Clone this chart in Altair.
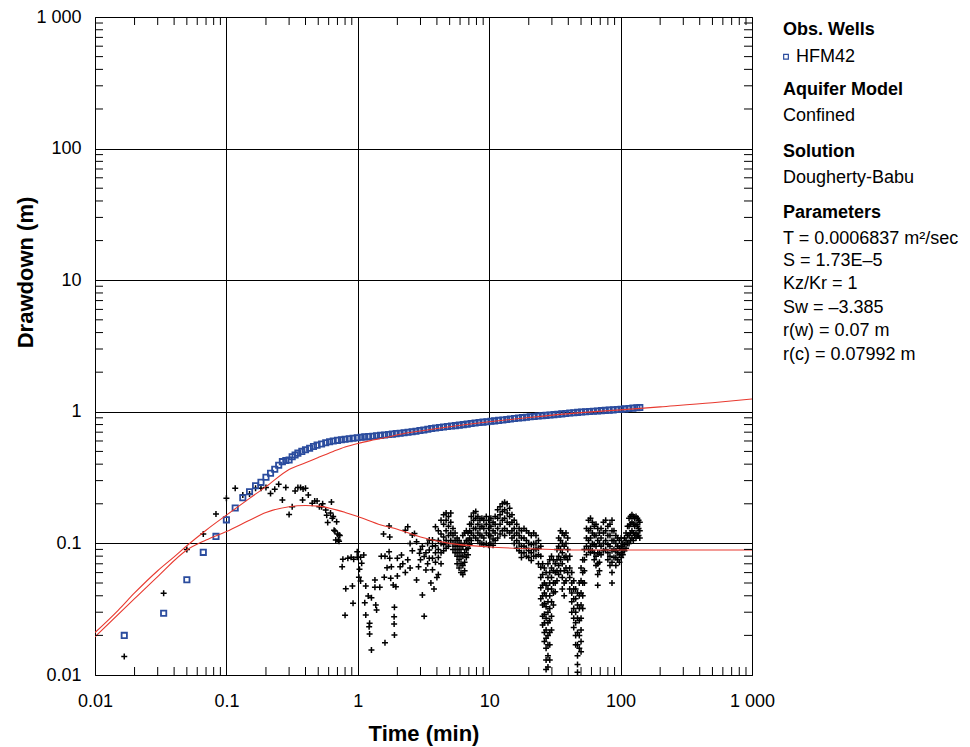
import altair as alt
import pandas as pd

W, H = 657, 658

# ---------------- data ----------------
# Observed drawdown, HFM42 (blue squares)
obs_t = [0.0167, 0.0333, 0.05, 0.0667, 0.0833, 0.1, 0.1167, 0.1333, 0.15, 0.1667,
         0.1833, 0.2, 0.2167, 0.2333, 0.25, 0.2667, 0.2833, 0.3, 0.3167, 0.3333,
         0.35, 0.375, 0.40, 0.43, 0.46, 0.49, 0.53, 0.57, 0.61, 0.65,
         0.70, 0.75, 0.80, 0.86, 0.92, 0.99, 1.06, 1.13, 1.21, 1.3,
         1.39, 1.49, 1.6, 1.71, 1.83, 1.96, 2.1, 2.25, 2.41, 2.59,
         2.77, 2.97, 3.18, 3.41, 3.65, 3.91, 4.19, 4.49, 4.81, 5.16,
         5.53, 5.92, 6.35, 6.8, 7.29, 7.81, 8.37, 8.97, 9.61, 10.3,
         11.0, 11.8, 12.7, 13.6, 14.5, 15.6, 16.7, 17.9, 19.2, 20.5,
         22.0, 23.6, 25.3, 27.1, 29.0, 31.1, 33.3, 35.7, 38.3, 41.0,
         44.0, 47.1, 50.5, 54.1, 58.0, 62.1, 66.6, 71.3, 76.5, 81.9,
         87.8, 94.1, 100.8, 108.0, 115.8, 124.1, 133.0, 140.0]
obs_s = [0.020, 0.0295, 0.053, 0.0855, 0.113, 0.151, 0.186, 0.222, 0.247, 0.274,
         0.291, 0.318, 0.341, 0.366, 0.392, 0.418, 0.427, 0.43, 0.456, 0.47,
         0.485, 0.50, 0.515, 0.528, 0.545, 0.558, 0.57, 0.582, 0.592, 0.60,
         0.607, 0.613, 0.618, 0.624, 0.629, 0.635, 0.64, 0.645, 0.648, 0.652,
         0.657, 0.662, 0.667, 0.672, 0.677, 0.683, 0.688, 0.694, 0.70, 0.706,
         0.712, 0.72, 0.728, 0.737, 0.746, 0.753, 0.76, 0.767, 0.773, 0.779,
         0.785, 0.792, 0.799, 0.806, 0.814, 0.822, 0.829, 0.835, 0.841, 0.847,
         0.853, 0.86, 0.867, 0.874, 0.881, 0.889, 0.896, 0.903, 0.91, 0.916,
         0.922, 0.928, 0.934, 0.94, 0.946, 0.952, 0.958, 0.965, 0.972, 0.978,
         0.984, 0.99, 0.996, 1.0, 1.005, 1.01, 1.015, 1.02, 1.025, 1.03,
         1.035, 1.04, 1.045, 1.052, 1.06, 1.067, 1.072, 1.077]

# Derivative of observed drawdown (black crosses), individual early points
deriv_pts = [
    (0.0167, 0.0138), (0.0333, 0.0418), (0.05, 0.090), (0.0667, 0.118), (0.0833, 0.167),
    (0.1, 0.220), (0.1167, 0.262), (0.1333, 0.233), (0.15, 0.237), (0.1667, 0.262),
    (0.1833, 0.262), (0.2, 0.266), (0.2167, 0.239), (0.2333, 0.258), (0.25, 0.281),
    (0.2667, 0.214), (0.2833, 0.266), (0.3, 0.166), (0.3167, 0.19), (0.3333, 0.25),
    (0.35, 0.266), (0.3667, 0.266), (0.38, 0.214), (0.3833, 0.259), (0.40, 0.262),
    (0.42, 0.233), (0.45, 0.202), (0.47, 0.21), (0.49, 0.21), (0.51, 0.19),
    (0.53, 0.19), (0.54, 0.2), (0.57, 0.179), (0.58, 0.164), (0.59, 0.144),
    (0.62, 0.17), (0.63, 0.206), (0.64, 0.155), (0.65, 0.16), (0.66, 0.126),
    (0.67, 0.124), (0.68, 0.106), (0.69, 0.146), (0.70, 0.118), (0.71, 0.106),
    (0.72, 0.116), (0.72, 0.104), (0.73, 0.115),
    (0.76, 0.0665), (0.77, 0.0757), (0.80, 0.0284), (0.81, 0.0453), (0.84, 0.077),
    (0.89, 0.0784), (0.91, 0.0475), (0.92, 0.0351), (0.93, 0.0757), (0.99, 0.0865),
    (0.99, 0.0784), (1.02, 0.0553), (1.03, 0.0636), (1.05, 0.0784), (1.05, 0.0518),
    (1.07, 0.0706), (1.11, 0.0817), (1.13, 0.0354), (1.15, 0.0475), (1.15, 0.0286),
    (1.2, 0.0398), (1.22, 0.0233), (1.23, 0.0247), (1.23, 0.0205), (1.27, 0.0387),
    (1.27, 0.0155), (1.35, 0.0527), (1.35, 0.0464), (1.37, 0.034), (1.39, 0.0312),
    (1.47, 0.0464), (1.51, 0.080), (1.57, 0.118), (1.59, 0.0553), (1.61, 0.080),
    (1.61, 0.0176), (1.67, 0.0653), (1.73, 0.1356), (1.73, 0.0865), (1.75, 0.112),
    (1.75, 0.077), (1.78, 0.0543), (1.8, 0.0665), (1.86, 0.0483), (1.89, 0.0277),
    (1.89, 0.0244), (1.9, 0.0327), (1.9, 0.0201), (1.95, 0.0469), (2.0, 0.077),
    (2.0, 0.0565), (2.1, 0.0665), (2.15, 0.0817), (2.2, 0.07), (2.3, 0.126),
    (2.3, 0.06), (2.4, 0.134), (2.4, 0.075), (2.5, 0.1), (2.5, 0.065),
    (2.6, 0.116), (2.6, 0.088), (2.7, 0.119), (2.8, 0.103), (2.8, 0.0527),
    (2.9, 0.0665), (2.95, 0.084), (3.0, 0.09), (3.0, 0.075), (3.1, 0.0405),
    (3.1, 0.095), (3.2, 0.028), (3.2, 0.0795), (3.3, 0.0628), (3.3, 0.085),
    (3.4, 0.07), (3.4, 0.1), (3.6, 0.05), (3.8, 0.045), (4.0, 0.055),
]

# Derivative, dense part: (time, [values at that time])
deriv_cols = [
    (3.5, [0.089, 0.106, 0.077]), (3.7, [0.106, 0.077, 0.095, 0.063]),
    (3.9, [0.134, 0.096, 0.085, 0.072]), (4.1, [0.125, 0.105, 0.090, 0.078, 0.058]),
    (4.3, [0.15, 0.118, 0.100, 0.085, 0.07]), (4.5, [0.165, 0.14, 0.112, 0.098, 0.088]),
    (4.7, [0.17, 0.15, 0.125, 0.105, 0.092]), (4.9, [0.16, 0.135, 0.115, 0.1, 0.095]),
    (5.1, [0.17, 0.145, 0.12, 0.105]), (5.3, [0.13, 0.115, 0.1, 0.09]),
    (5.5, [0.12, 0.105, 0.095, 0.085]), (5.7, [0.11, 0.1, 0.09, 0.08, 0.07]),
    (5.9, [0.105, 0.095, 0.085, 0.075, 0.065]), (6.1, [0.1, 0.09, 0.08, 0.07, 0.06]),
    (6.3, [0.115, 0.095, 0.08, 0.068, 0.058]), (6.5, [0.12, 0.1, 0.085, 0.072, 0.062]),
    (6.7, [0.125, 0.105, 0.09, 0.078]), (6.9, [0.12, 0.105, 0.092, 0.082]),
    (7.1, [0.14, 0.125, 0.11, 0.098]), (7.3, [0.16, 0.14, 0.12, 0.105]),
    (7.6, [0.17, 0.15, 0.13, 0.115]), (7.9, [0.175, 0.155, 0.13, 0.11]),
    (8.2, [0.16, 0.14, 0.12, 0.105]), (8.5, [0.15, 0.13, 0.115, 0.1]),
    (8.8, [0.155, 0.135, 0.115, 0.1]), (9.1, [0.15, 0.13, 0.11, 0.098]),
    (9.5, [0.16, 0.14, 0.12, 0.1]), (9.9, [0.15, 0.13, 0.115, 0.097]),
    (10.3, [0.155, 0.135, 0.115, 0.1]), (10.7, [0.145, 0.125, 0.108, 0.097]),
    (11.1, [0.16, 0.14, 0.12, 0.105]), (11.6, [0.18, 0.155, 0.13, 0.11]),
    (12.1, [0.19, 0.165, 0.14, 0.118]), (12.6, [0.2, 0.175, 0.15, 0.125]),
    (13.1, [0.205, 0.18, 0.155, 0.13, 0.115]), (13.7, [0.2, 0.17, 0.145, 0.125]),
    (14.3, [0.185, 0.16, 0.14, 0.12]), (14.9, [0.165, 0.145, 0.125, 0.11]),
    (15.5, [0.15, 0.13, 0.115, 0.1]), (16.2, [0.14, 0.12, 0.105, 0.092]),
    (16.9, [0.13, 0.115, 0.1, 0.088]), (17.6, [0.125, 0.11, 0.095, 0.085, 0.078]),
    (18.4, [0.13, 0.11, 0.095, 0.085]), (19.2, [0.125, 0.105, 0.092, 0.08]),
    (20.0, [0.12, 0.1, 0.088, 0.078]), (20.9, [0.115, 0.098, 0.085, 0.074]),
    (21.8, [0.12, 0.1, 0.09, 0.08]), (22.7, [0.115, 0.1, 0.09, 0.08]),
    (23.7, [0.105, 0.092, 0.082, 0.07]),
    (24.7, [0.095, 0.08, 0.066, 0.055, 0.046, 0.038]),
    (25.5, [0.07, 0.058, 0.048, 0.04, 0.034, 0.028, 0.024]),
    (26.3, [0.065, 0.05, 0.042, 0.035, 0.029, 0.025, 0.021, 0.018]),
    (27.1, [0.06, 0.048, 0.04, 0.033, 0.027, 0.022, 0.019, 0.016, 0.013, 0.011]),
    (28.0, [0.07, 0.055, 0.045, 0.036, 0.03, 0.025, 0.02, 0.017, 0.014, 0.0115]),
    (28.9, [0.075, 0.06, 0.05, 0.04, 0.032, 0.026, 0.021, 0.017, 0.013]),
    (29.8, [0.08, 0.065, 0.055, 0.045, 0.036, 0.028, 0.022]),
    (30.8, [0.075, 0.062, 0.05, 0.042, 0.034]), (31.8, [0.07, 0.06, 0.05, 0.043]),
    (32.8, [0.09, 0.075, 0.062, 0.052]), (33.8, [0.11, 0.095, 0.08, 0.068, 0.058]),
    (34.9, [0.125, 0.105, 0.09, 0.075, 0.062]),
    (36.0, [0.12, 0.1, 0.085, 0.07, 0.055, 0.045]),
    (37.2, [0.115, 0.095, 0.078, 0.062, 0.05, 0.04]),
    (38.4, [0.12, 0.1, 0.08, 0.065, 0.052]), (39.6, [0.11, 0.09, 0.075, 0.06]),
    (41.0, [0.08, 0.065, 0.055, 0.045]), (42.5, [0.06, 0.05, 0.042, 0.036, 0.03]),
    (44.0, [0.052, 0.045, 0.038, 0.032, 0.027, 0.023]),
    (45.5, [0.045, 0.038, 0.03, 0.025, 0.02, 0.017]),
    (47.0, [0.042, 0.034, 0.027, 0.021, 0.017, 0.014, 0.012, 0.0105]),
    (48.5, [0.05, 0.04, 0.032, 0.026, 0.02, 0.016]),
    (50.0, [0.065, 0.052, 0.042, 0.034, 0.027, 0.022, 0.018, 0.015]),
    (51.5, [0.075, 0.06, 0.05, 0.04, 0.032]), (53.0, [0.09, 0.075, 0.062, 0.05]),
    (55.0, [0.13, 0.11, 0.095, 0.082]), (57.0, [0.15, 0.125, 0.105, 0.09]),
    (59.0, [0.155, 0.13, 0.11, 0.095, 0.085]), (61.0, [0.145, 0.12, 0.1, 0.088]),
    (63.0, [0.135, 0.115, 0.098, 0.085, 0.075]), (65.0, [0.14, 0.115, 0.095, 0.08, 0.068]),
    (67.0, [0.13, 0.105, 0.085, 0.07, 0.058, 0.048]), (69.0, [0.12, 0.1, 0.085, 0.072, 0.062]),
    (71.0, [0.13, 0.11, 0.095, 0.082]), (74.0, [0.145, 0.12, 0.1, 0.088]),
    (77.0, [0.15, 0.125, 0.105, 0.09]), (80.0, [0.135, 0.115, 0.098, 0.085, 0.075]),
    (83.0, [0.14, 0.115, 0.095, 0.08, 0.068]),
    (86.0, [0.15, 0.125, 0.105, 0.088, 0.072, 0.06, 0.05]),
    (89.0, [0.125, 0.105, 0.09, 0.078]), (92.0, [0.115, 0.1, 0.088, 0.078, 0.068]),
    (95.0, [0.11, 0.095, 0.085, 0.075]), (98.0, [0.105, 0.092, 0.082, 0.072]),
    (101.0, [0.11, 0.095, 0.085, 0.078]), (104.0, [0.1, 0.09, 0.082]),
    (107.0, [0.11, 0.098, 0.088]), (110.0, [0.12, 0.105, 0.092]),
    (113.0, [0.135, 0.115, 0.1]), (116.0, [0.155, 0.135, 0.115, 0.1]),
    (119.0, [0.16, 0.14, 0.12, 0.105]), (122.0, [0.165, 0.145, 0.125, 0.11]),
    (125.0, [0.16, 0.14, 0.12, 0.105]), (128.0, [0.155, 0.135, 0.115]),
    (131.0, [0.16, 0.14, 0.12, 0.11]), (134.0, [0.155, 0.135, 0.115]),
    (137.0, [0.15, 0.13, 0.115]), (140.0, [0.145, 0.125, 0.11]),
]

# Type curve (Dougherty-Babu) and its derivative (red lines)
model_t = [0.01, 0.015, 0.02, 0.03, 0.04, 0.05, 0.07, 0.1, 0.15, 0.2, 0.3, 0.4, 0.5,
           0.65, 0.8, 1.0, 1.3, 1.75, 2.1, 3.0, 5.0, 10.0, 20.0, 50.0, 100.0, 200.0,
           500.0, 1000.0]
model_s = [0.021, 0.031, 0.042, 0.062, 0.079, 0.096, 0.126, 0.164, 0.22, 0.27, 0.365,
           0.41, 0.45, 0.50, 0.54, 0.575, 0.61, 0.647, 0.675, 0.715, 0.77, 0.84, 0.905,
           0.985, 1.035, 1.09, 1.17, 1.25]
deriv_model_t = [0.01, 0.02, 0.03, 0.05, 0.07, 0.1, 0.15, 0.2, 0.3, 0.4, 0.5, 0.6, 0.8,
                 1.0, 1.5, 2.0, 3.0, 5.0, 10.0, 20.0, 50.0, 100.0, 1000.0]
deriv_model_s = [0.0195, 0.038, 0.056, 0.089, 0.106, 0.123, 0.15, 0.172, 0.19, 0.194,
                 0.192, 0.186, 0.172, 0.16, 0.138, 0.128, 0.112, 0.1, 0.094, 0.091,
                 0.089, 0.089, 0.089]

decades = [0.01, 0.1, 1, 10, 100, 1000]
minor_mult = [2, 3, 4, 5, 6, 7, 8, 9]

legend_lines = [
    ("Obs. Wells", True), ("HFM42", False), ("Aquifer Model", True), ("Confined", False),
    ("Solution", True), ("Dougherty-Babu", False), ("Parameters", True),
    ("T = 0.0006837 m\u00b2/sec", False), ("S = 1.73E\u20135", False),
    ("Kz/Kr = 1", False), ("Sw = \u20133.385", False), ("r(w) = 0.07 m", False),
    ("r(c) = 0.07992 m", False),
]

# ---------------- layout constants ----------------
legend_y = [13, 39.7, 73, 99, 134.7, 160.7, 195.5, 221.5, 244, 267, 290.5, 314, 337.5]
LEG_X = 688
FONT = "Liberation Sans"
BLUE = "#2b4c9e"
RED = "#e8392f"

# ---------------- tables ----------------
obs = pd.DataFrame({"t": obs_t, "s": obs_s})
der_rows = list(deriv_pts) + [(t, v) for t, vs in deriv_cols for v in vs]
der = pd.DataFrame(der_rows, columns=["t", "s"])
model = pd.DataFrame({"t": model_t, "s": model_s})
dmodel = pd.DataFrame({"t": deriv_model_t, "s": deriv_model_s})
minor = pd.DataFrame({"v": [m * d for d in decades[:-1] for m in minor_mult]})

xs = alt.Scale(type="log", domain=[0.01, 1000], nice=False)
ys = alt.Scale(type="log", domain=[0.01, 1000], nice=False)

label_expr = "datum.value >= 1000 ? '1 000' : format(datum.value, '~g')"

x_axis = alt.Axis(values=decades, labelExpr=label_expr, grid=True, ticks=False,
                  domain=False, labelPadding=17, title="Time (min)",
                  titleY=58, titleBaseline="middle", labelFlush=False)
y_axis = alt.Axis(values=decades, labelExpr=label_expr, grid=True, ticks=False,
                  domain=False, labelPadding=14, title="Drawdown (m)",
                  titleX=-70, titleY=255, titleBaseline="middle", titleAngle=-90,
                  labelFlush=False)

X = alt.X("t:Q", scale=xs, axis=x_axis)
Y = alt.Y("s:Q", scale=ys, axis=y_axis)

cross_shape = "M-1,0L1,0M0,-1L0,1"
crosses = alt.Chart(der).mark_point(
    shape=cross_shape, filled=False, stroke="black", strokeWidth=1.5, size=36,
    opacity=1, clip=True
).encode(x=X, y=Y)

squares = alt.Chart(obs).mark_point(
    shape="square", filled=False, color=BLUE, strokeWidth=1.8, size=28, opacity=1,
    clip=True
).encode(x=X, y=Y)

line_model = alt.Chart(model).mark_line(color=RED, strokeWidth=1.1,
                                         interpolate="monotone", clip=True).encode(x=X, y=Y)
line_dmodel = alt.Chart(dmodel).mark_line(color=RED, strokeWidth=1.1,
                                           interpolate="monotone", clip=True).encode(x=X, y=Y)

TL = 8
XV = alt.X("v:Q", scale=xs, axis=x_axis)
YV = alt.Y("v:Q", scale=ys, axis=y_axis)
tick_bottom = alt.Chart(minor).mark_rule(color="black", strokeWidth=1).encode(
    x=XV, y=alt.value(H), y2=alt.value(H - TL))
tick_top = alt.Chart(minor).mark_rule(color="black", strokeWidth=1).encode(
    x=XV, y=alt.value(0), y2=alt.value(TL))
tick_left = alt.Chart(minor).mark_rule(color="black", strokeWidth=1).encode(
    y=YV, x=alt.value(0), x2=alt.value(TL))
tick_right = alt.Chart(minor).mark_rule(color="black", strokeWidth=1).encode(
    y=YV, x=alt.value(W), x2=alt.value(W - TL))

texts = []
for (txt, bold), yy in zip(legend_lines, legend_y):
    xx = LEG_X + 13 if txt == "HFM42" else LEG_X
    texts.append(
        alt.Chart(pd.DataFrame({"label": [txt]})).mark_text(
            align="left", baseline="middle", font=FONT, fontSize=18,
            fontWeight="bold" if bold else "normal", color="black"
        ).encode(x=alt.value(xx), y=alt.value(yy), text="label:N")
    )

legend_square = alt.Chart(pd.DataFrame({"label": ["HFM42"]})).mark_point(
    shape="square", filled=False, color=BLUE, strokeWidth=1.2, size=22, opacity=1
).encode(x=alt.value(LEG_X + 3), y=alt.value(legend_y[1]))

chart = alt.layer(
    crosses, squares, line_dmodel, line_model,
    tick_bottom, tick_top, tick_left, tick_right,
    legend_square, *texts
).properties(
    width=W, height=H,
    autosize=alt.AutoSizeParams(type="none"),
    padding={"left": 95, "top": 17, "right": 218, "bottom": 72},
    background="white",
).configure_view(
    stroke="black", strokeWidth=1
).configure_axis(
    labelFont=FONT, labelFontSize=18, labelColor="black",
    titleFont=FONT, titleFontSize=22, titleFontWeight="bold", titleColor="black",
    gridColor="black", gridOpacity=1, gridWidth=1,
)

chart.save("out.html", embed_options={"renderer": "svg", "actions": False})
